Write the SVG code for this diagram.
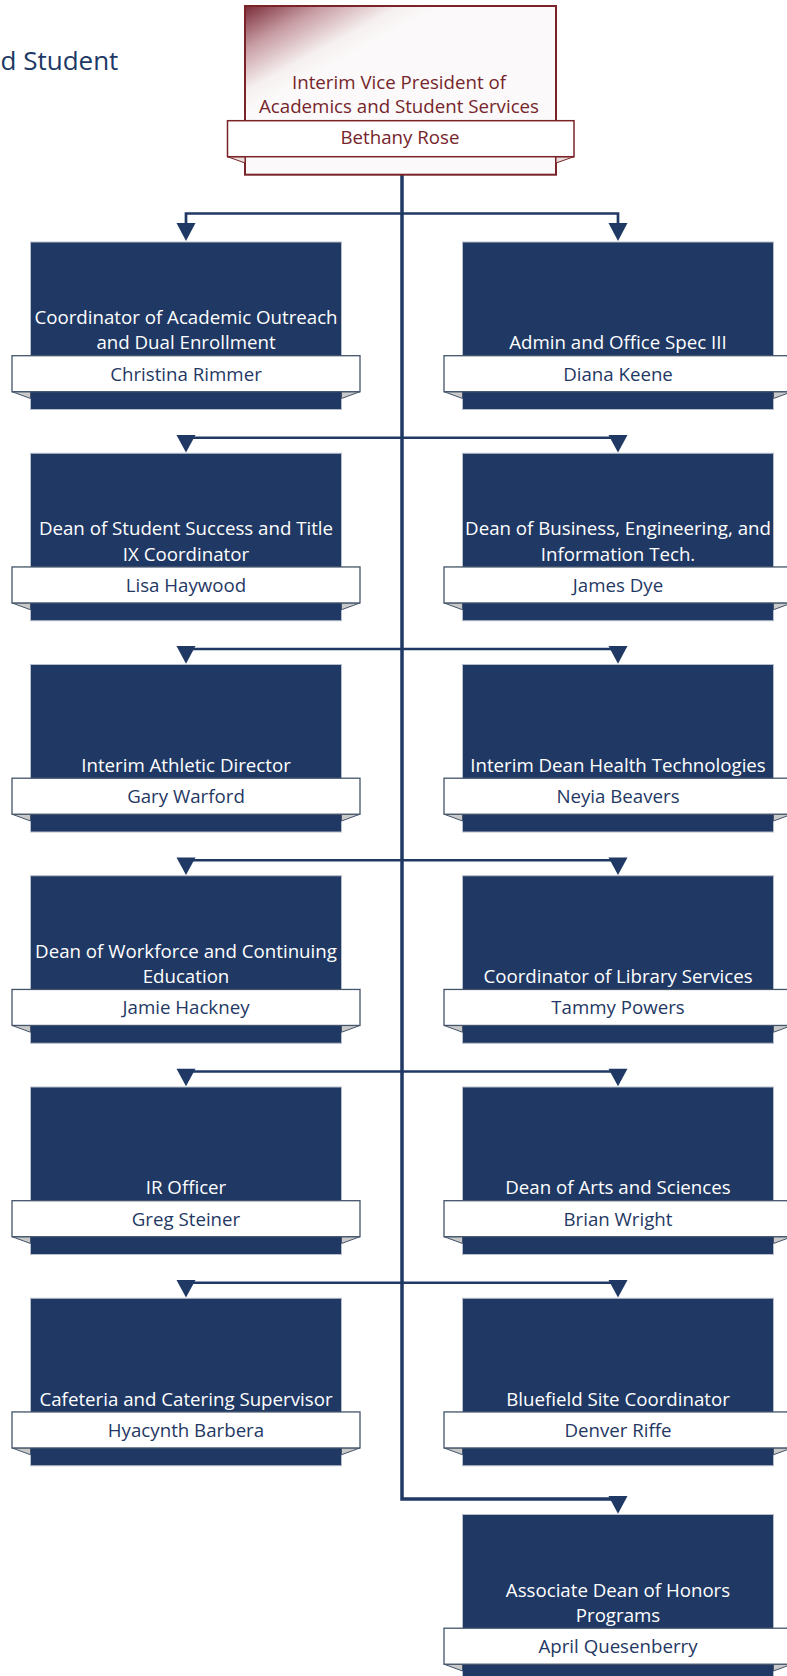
<svg xmlns="http://www.w3.org/2000/svg" width="787" height="1676" viewBox="0 0 787 1676">
<style>
.box{fill:#1f3864;stroke:#b8bfca;stroke-width:1}
.ban{fill:#ffffff;stroke:#44546a;stroke-width:1.3}
.fold{fill:#c9c9c9;stroke:#44546a;stroke-width:1;stroke-linejoin:round}
.t{font-family:"Open Sans","Noto Sans","DejaVu Sans",sans-serif;font-size:18.7px;text-anchor:middle}
.tw{fill:#ffffff}
.tn{fill:#1f3864}
.tr{fill:#76252b}
.trunk{fill:none;stroke:#1f3864;stroke-width:3.5}
.br{fill:none;stroke:#1f3864;stroke-width:2.7}
.ah{fill:#1f3864}
</style>
<defs>
<linearGradient id="topg" gradientUnits="userSpaceOnUse" x1="245" y1="6" x2="290" y2="88">
<stop offset="0" stop-color="#7a2c39"/>
<stop offset="0.4" stop-color="#c79ca3"/>
<stop offset="0.8" stop-color="#f6f0f0"/>
<stop offset="1" stop-color="#fbf9f9"/>
</linearGradient>
</defs>
<rect width="787" height="1676" fill="#ffffff"/>
<text x="0.5" y="70" style="font-family:'Open Sans','Noto Sans',sans-serif;font-size:26px;fill:#203864">d Student</text>

<g id="connectors">
<path class="trunk" d="M402 174.7 V1499 H618"/>
<path class="br" d="M186 223 V213.5 H618 V223"/>
<path class="br" d="M186 437.75 H618"/>
<path class="br" d="M186 649 H618"/>
<path class="br" d="M186 860.25 H618"/>
<path class="br" d="M186 1071.5 H618"/>
<path class="br" d="M186 1282.75 H618"/>
<g class="ah">
<polygon points="176.5,223 195.5,223 186,241"/>
<polygon points="608.5,223 627.5,223 618,241"/>
<polygon points="176.5,435 195.5,435 186,452.5"/>
<polygon points="608.5,435 627.5,435 618,452.5"/>
<polygon points="176.5,646 195.5,646 186,663.75"/>
<polygon points="608.5,646 627.5,646 618,663.75"/>
<polygon points="176.5,857.5 195.5,857.5 186,875"/>
<polygon points="608.5,857.5 627.5,857.5 618,875"/>
<polygon points="176.5,1068.75 195.5,1068.75 186,1086.25"/>
<polygon points="608.5,1068.75 627.5,1068.75 618,1086.25"/>
<polygon points="176.5,1280 195.5,1280 186,1297.5"/>
<polygon points="608.5,1280 627.5,1280 618,1297.5"/>
<polygon points="608.5,1496 627.5,1496 618,1513.75"/>
</g>
</g>

<g id="n0">
<rect x="245" y="6" width="311" height="168.7" fill="url(#topg)" stroke="#7a2328" stroke-width="2"/>
<polygon points="227.5,156.7 245,156.7 245,163" fill="#e9dede" stroke="#7a2328" stroke-width="1"/>
<polygon points="574,156.7 556,156.7 556,163" fill="#e9dede" stroke="#7a2328" stroke-width="1"/>
<rect x="227.5" y="120.7" width="346.5" height="36" fill="#ffffff" stroke="#7a2328" stroke-width="1.5"/>
<text class="t tr" x="399" y="89.3">Interim Vice President of</text>
<text class="t tr" x="399" y="113.3">Academics and Student Services</text>
<text class="t tr" x="400" y="144.3">Bethany Rose</text>
</g>

<g id="n1" transform="translate(30.5 242)">
<rect class="box" x="0" y="0" width="311" height="167.5"/>
<polygon class="fold" points="-18.5,149.7 0,149.7 0,156.5"/>
<polygon class="fold" points="329.5,149.7 311,149.7 311,156.5"/>
<rect class="ban" x="-18.5" y="113.7" width="348" height="36"/>
<text class="t tw" x="155.5" y="82">Coordinator of Academic Outreach</text>
<text class="t tw" x="155.5" y="107.3">and Dual Enrollment</text>
<text class="t tn" x="155.5" y="138.6">Christina Rimmer</text>
</g>
<g id="n2" transform="translate(462.5 242)">
<rect class="box" x="0" y="0" width="311" height="167.5"/>
<polygon class="fold" points="-18.5,149.7 0,149.7 0,156.5"/>
<polygon class="fold" points="329.5,149.7 311,149.7 311,156.5"/>
<rect class="ban" x="-18.5" y="113.7" width="348" height="36"/>
<text class="t tw" x="155.5" y="107.3">Admin and Office Spec III</text>
<text class="t tn" x="155.5" y="138.6">Diana Keene</text>
</g>

<g id="n3" transform="translate(30.5 453.25)">
<rect class="box" x="0" y="0" width="311" height="167.5"/>
<polygon class="fold" points="-18.5,149.7 0,149.7 0,156.5"/>
<polygon class="fold" points="329.5,149.7 311,149.7 311,156.5"/>
<rect class="ban" x="-18.5" y="113.7" width="348" height="36"/>
<text class="t tw" x="155.5" y="82">Dean of Student Success and Title</text>
<text class="t tw" x="155.5" y="107.3">IX Coordinator</text>
<text class="t tn" x="155.5" y="138.6">Lisa Haywood</text>
</g>
<g id="n4" transform="translate(462.5 453.25)">
<rect class="box" x="0" y="0" width="311" height="167.5"/>
<polygon class="fold" points="-18.5,149.7 0,149.7 0,156.5"/>
<polygon class="fold" points="329.5,149.7 311,149.7 311,156.5"/>
<rect class="ban" x="-18.5" y="113.7" width="348" height="36"/>
<text class="t tw" x="155.5" y="82">Dean of Business, Engineering, and</text>
<text class="t tw" x="155.5" y="107.3">Information Tech.</text>
<text class="t tn" x="155.5" y="138.6">James Dye</text>
</g>

<g id="n5" transform="translate(30.5 664.5)">
<rect class="box" x="0" y="0" width="311" height="167.5"/>
<polygon class="fold" points="-18.5,149.7 0,149.7 0,156.5"/>
<polygon class="fold" points="329.5,149.7 311,149.7 311,156.5"/>
<rect class="ban" x="-18.5" y="113.7" width="348" height="36"/>
<text class="t tw" x="155.5" y="107.3">Interim Athletic Director</text>
<text class="t tn" x="155.5" y="138.6">Gary Warford</text>
</g>
<g id="n6" transform="translate(462.5 664.5)">
<rect class="box" x="0" y="0" width="311" height="167.5"/>
<polygon class="fold" points="-18.5,149.7 0,149.7 0,156.5"/>
<polygon class="fold" points="329.5,149.7 311,149.7 311,156.5"/>
<rect class="ban" x="-18.5" y="113.7" width="348" height="36"/>
<text class="t tw" x="155.5" y="107.3">Interim Dean Health Technologies</text>
<text class="t tn" x="155.5" y="138.6">Neyia Beavers</text>
</g>

<g id="n7" transform="translate(30.5 875.75)">
<rect class="box" x="0" y="0" width="311" height="167.5"/>
<polygon class="fold" points="-18.5,149.7 0,149.7 0,156.5"/>
<polygon class="fold" points="329.5,149.7 311,149.7 311,156.5"/>
<rect class="ban" x="-18.5" y="113.7" width="348" height="36"/>
<text class="t tw" x="155.5" y="82">Dean of Workforce and Continuing</text>
<text class="t tw" x="155.5" y="107.3">Education</text>
<text class="t tn" x="155.5" y="138.6">Jamie Hackney</text>
</g>
<g id="n8" transform="translate(462.5 875.75)">
<rect class="box" x="0" y="0" width="311" height="167.5"/>
<polygon class="fold" points="-18.5,149.7 0,149.7 0,156.5"/>
<polygon class="fold" points="329.5,149.7 311,149.7 311,156.5"/>
<rect class="ban" x="-18.5" y="113.7" width="348" height="36"/>
<text class="t tw" x="155.5" y="107.3">Coordinator of Library Services</text>
<text class="t tn" x="155.5" y="138.6">Tammy Powers</text>
</g>

<g id="n9" transform="translate(30.5 1087)">
<rect class="box" x="0" y="0" width="311" height="167.5"/>
<polygon class="fold" points="-18.5,149.7 0,149.7 0,156.5"/>
<polygon class="fold" points="329.5,149.7 311,149.7 311,156.5"/>
<rect class="ban" x="-18.5" y="113.7" width="348" height="36"/>
<text class="t tw" x="155.5" y="107.3">IR Officer</text>
<text class="t tn" x="155.5" y="138.6">Greg Steiner</text>
</g>
<g id="n10" transform="translate(462.5 1087)">
<rect class="box" x="0" y="0" width="311" height="167.5"/>
<polygon class="fold" points="-18.5,149.7 0,149.7 0,156.5"/>
<polygon class="fold" points="329.5,149.7 311,149.7 311,156.5"/>
<rect class="ban" x="-18.5" y="113.7" width="348" height="36"/>
<text class="t tw" x="155.5" y="107.3">Dean of Arts and Sciences</text>
<text class="t tn" x="155.5" y="138.6">Brian Wright</text>
</g>

<g id="n11" transform="translate(30.5 1298.25)">
<rect class="box" x="0" y="0" width="311" height="167.5"/>
<polygon class="fold" points="-18.5,149.7 0,149.7 0,156.5"/>
<polygon class="fold" points="329.5,149.7 311,149.7 311,156.5"/>
<rect class="ban" x="-18.5" y="113.7" width="348" height="36"/>
<text class="t tw" x="155.5" y="107.3">Cafeteria and Catering Supervisor</text>
<text class="t tn" x="155.5" y="138.6">Hyacynth Barbera</text>
</g>
<g id="n12" transform="translate(462.5 1298.25)">
<rect class="box" x="0" y="0" width="311" height="167.5"/>
<polygon class="fold" points="-18.5,149.7 0,149.7 0,156.5"/>
<polygon class="fold" points="329.5,149.7 311,149.7 311,156.5"/>
<rect class="ban" x="-18.5" y="113.7" width="348" height="36"/>
<text class="t tw" x="155.5" y="107.3">Bluefield Site Coordinator</text>
<text class="t tn" x="155.5" y="138.6">Denver Riffe</text>
</g>

<g id="n13" transform="translate(462.5 1514.5)">
<rect class="box" x="0" y="0" width="311" height="167.5"/>
<polygon class="fold" points="-18.5,149.7 0,149.7 0,156.5"/>
<polygon class="fold" points="329.5,149.7 311,149.7 311,156.5"/>
<rect class="ban" x="-18.5" y="113.7" width="348" height="36"/>
<text class="t tw" x="155.5" y="82">Associate Dean of Honors</text>
<text class="t tw" x="155.5" y="107.3">Programs</text>
<text class="t tn" x="155.5" y="138.6">April Quesenberry</text>
</g>
</svg>
